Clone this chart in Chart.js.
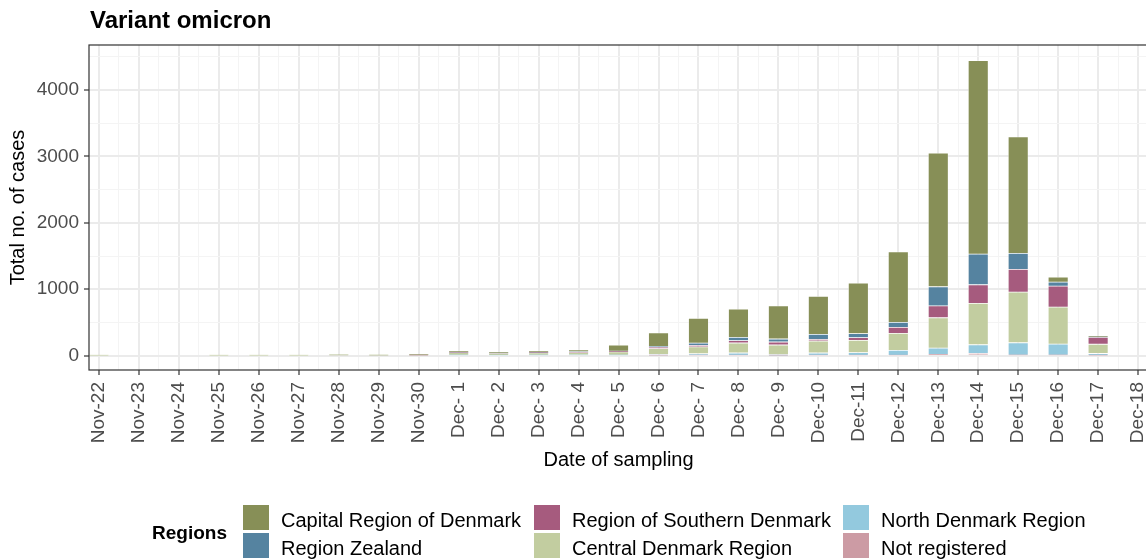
<!DOCTYPE html>
<html>
<head>
<meta charset="utf-8">
<script src="https://cdn.jsdelivr.net/npm/chart.js@4"></script>
<style>
  html, body { margin: 0; padding: 0; background: #fff; overflow: hidden; }
  #wrap { position: relative; width: 1168px; height: 560px; }
  #legend { position: absolute; left: 0; top: 0; font-family: "Liberation Sans", Arial, sans-serif; color: #000; }
  #legend .lt { position: absolute; font-weight: bold; font-size: 19px; line-height: 19px; white-space: nowrap; }
  #legend .key { position: absolute; width: 26px; height: 25px; }
  #legend .lbl { position: absolute; font-size: 20px; line-height: 20px; white-space: nowrap; }
</style>
</head>
<body>
<div id="wrap">
  <canvas id="myChart" width="1168" height="560"></canvas>
  <div id="legend"></div>
</div>
<script>
const dates = [
  "Nov-22", "Nov-23", "Nov-24", "Nov-25", "Nov-26", "Nov-27", "Nov-28", "Nov-29", "Nov-30",
  "Dec- 1", "Dec- 2", "Dec- 3", "Dec- 4", "Dec- 5", "Dec- 6", "Dec- 7", "Dec- 8", "Dec- 9",
  "Dec-10", "Dec-11", "Dec-12", "Dec-13", "Dec-14", "Dec-15", "Dec-16", "Dec-17", "Dec-18",
];
const capital = [0, 0, 0, 0, 0, 0, 4, 3, 10, 22, 20, 25, 30, 90, 205, 371, 426, 501, 571, 760, 1063, 2010, 2913, 1755, 75, 15, 0];
const zealand = [0, 0, 0, 0, 0, 0, 0, 0, 0, 2, 2, 2, 3, 4, 12, 35, 50, 45, 75, 60, 75, 286, 461, 241, 60, 5, 0];
const southern = [0, 0, 0, 0, 0, 0, 0, 0, 8, 2, 3, 5, 10, 8, 22, 20, 35, 45, 25, 42, 90, 180, 281, 341, 316, 105, 0];
const central = [1, 0, 0, 2, 1, 2, 10, 8, 6, 38, 30, 33, 35, 50, 88, 105, 150, 145, 180, 185, 256, 456, 622, 762, 556, 140, 0];
const north = [0, 0, 0, 0, 0, 0, 0, 0, 0, 8, 5, 10, 12, 8, 15, 25, 35, 12, 35, 40, 75, 95, 130, 185, 165, 30, 0];
const notRegistered = [0, 0, 0, 0, 0, 0, 0, 0, 0, 0, 0, 0, 0, 0, 3, 5, 6, 4, 6, 6, 5, 20, 35, 10, 10, 3, 0];
const yTicks = [0, 1000, 2000, 3000, 4000];

Chart.defaults.font.family = "'Liberation Sans', Arial, sans-serif";

// bottom of the stack first, like ggplot's reversed factor order
const series = [
  { label: "Not registered", data: notRegistered, color: "#CC9BA4" },
  { label: "North Denmark Region", data: north, color: "#93C9DE" },
  { label: "Central Denmark Region", data: central, color: "#C2CDA0" },
  { label: "Region of Southern Denmark", data: southern, color: "#A65B7E" },
  { label: "Region Zealand", data: zealand, color: "#5583A0" },
  { label: "Capital Region of Denmark", data: capital, color: "#878F57" },
];

const isMajor = (v) => Math.abs(v - Math.round(v)) < 1e-9;

const frame = {
  id: "frame",
  afterDatasetsDraw(chart) {
    const { ctx, chartArea: a } = chart;
    ctx.save();
    ctx.strokeStyle = "#333333";
    ctx.lineWidth = 1.2;
    ctx.strokeRect(a.left, a.top, a.right - a.left, a.bottom - a.top);
    ctx.restore();
  },
  afterDraw(chart) {
    const { ctx, chartArea: a } = chart;
    ctx.save();
    ctx.fillStyle = "#000";
    ctx.font = "bold 24px 'Liberation Sans', Arial, sans-serif";
    ctx.textBaseline = "middle";
    ctx.fillText("Variant omicron", a.left + 1, 21);
    ctx.restore();
  },
};

const ctx = document.getElementById("myChart").getContext("2d");
const myChart = new Chart(ctx, {
  type: "bar",
  data: {
    datasets: series.map((s) => ({
      label: s.label,
      data: s.data.map((v, i) => ({ x: i, y: v })),
      backgroundColor: s.color,
      borderColor: "rgba(255,255,255,0.45)",
      borderWidth: 0.75,
      borderSkipped: false,
      // ticks every half day, so one "sample" is 20px and a bar fills it
      barPercentage: 1,
      categoryPercentage: 1,
    })),
  },
  plugins: [frame],
  options: {
    responsive: false,
    animation: false,
    layout: { padding: { top: 45, left: 0, right: 11, bottom: 88 } },
    plugins: { legend: { display: false }, tooltip: { enabled: false } },
    scales: {
      x: {
        type: "linear",
        stacked: true,
        offset: false,
        min: -0.25,
        max: dates.length - 0.75,
        afterBuildTicks: (s) => {
          const t = [];
          for (let v = 0; v <= dates.length - 1; v += 0.5) t.push({ value: v });
          s.ticks = t;
        },
        afterFit: (s) => { s.height = 102; },
        ticks: {
          autoSkip: false,
          minRotation: 90,
          maxRotation: 90,
          padding: 7,
          color: "#4D4D4D",
          font: { size: 19 },
          callback: (v) => (isMajor(v) ? dates[Math.round(v)] : ""),
        },
        grid: {
          offset: false,
          color: (c) => (isMajor(c.tick.value) ? "#EBEBEB" : "#F4F4F4"),
          lineWidth: (c) => (isMajor(c.tick.value) ? 2 : 1),
          tickColor: (c) => (isMajor(c.tick.value) ? "#333333" : "rgba(0,0,0,0)"),
          tickWidth: 1.2,
          tickLength: 5,
        },
        border: { display: false },
        title: {
          display: true,
          text: "Date of sampling",
          color: "#000",
          font: { size: 20 },
          padding: { top: 0, bottom: 0 },
        },
      },
      y: {
        stacked: true,
        min: -215,
        max: 4675,
        afterBuildTicks: (s) => {
          const t = [];
          for (let v = yTicks[0]; v <= yTicks[yTicks.length - 1] + 500; v += 500) t.push({ value: v });
          s.ticks = t;
        },
        afterFit: (s) => { s.width = 89; },
        ticks: {
          padding: 5,
          color: "#4D4D4D",
          font: { size: 19 },
          callback: (v) => (yTicks.includes(v) ? String(v) : ""),
        },
        grid: {
          color: (c) => (yTicks.includes(c.tick.value) ? "#EBEBEB" : "#F4F4F4"),
          lineWidth: (c) => (yTicks.includes(c.tick.value) ? 2 : 1),
          tickColor: (c) => (yTicks.includes(c.tick.value) ? "#333333" : "rgba(0,0,0,0)"),
          tickWidth: 1.2,
          tickLength: 5,
        },
        border: { display: false },
        title: {
          display: true,
          text: "Total no. of cases",
          color: "#000",
          font: { size: 20 },
          padding: { top: 6, bottom: 0 },
        },
      },
    },
  },
});

// legend: ggplot style, two rows filled column by column
const legend = document.getElementById("legend");
const colLeft = [243, 534, 843];
const rowTop = [505, 533];
const title = document.createElement("span");
title.className = "lt";
title.textContent = "Regions";
title.style.left = "152px";
title.style.top = "523px";
legend.appendChild(title);
myChart.data.datasets.slice().reverse().forEach((ds, k) => {
  const col = Math.floor(k / 2);
  const row = k % 2;
  const key = document.createElement("span");
  key.className = "key";
  key.style.background = ds.backgroundColor;
  key.style.left = colLeft[col] + "px";
  key.style.top = rowTop[row] + "px";
  legend.appendChild(key);
  const lbl = document.createElement("span");
  lbl.className = "lbl";
  lbl.textContent = ds.label;
  lbl.style.left = colLeft[col] + 38 + "px";
  lbl.style.top = rowTop[row] + 5 + "px";
  legend.appendChild(lbl);
});
</script>
</body>
</html>
